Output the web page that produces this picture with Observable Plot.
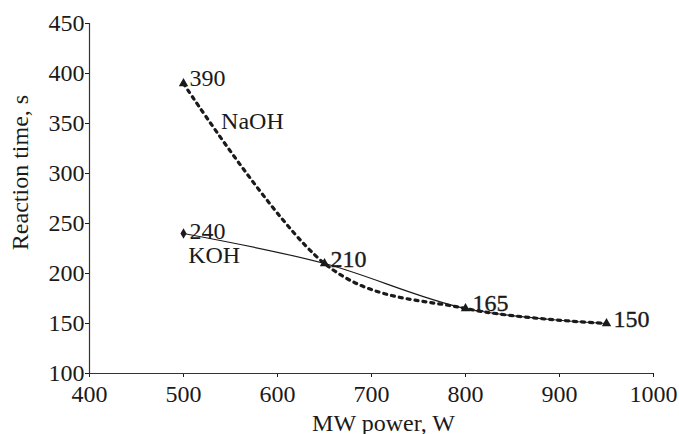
<!DOCTYPE html>
<html>
<head>
<meta charset="utf-8">
<script src="https://cdn.jsdelivr.net/npm/d3@7"></script>
<script src="https://cdn.jsdelivr.net/npm/@observablehq/plot@0.6"></script>
<style>
  html, body { margin: 0; padding: 0; background: #fff; }
  #chart svg { display: block; }
</style>
</head>
<body>
<div id="chart"></div>
<script>
// Data
const power = [500, 650, 800, 950];
const naoh = [390, 210, 165, 150];
const koh = [240, 210, 165, 150];
const xTicks = [400, 500, 600, 700, 800, 900, 1000];
const yTicks = [100, 150, 200, 250, 300, 350, 400, 450];
const seriesNames = ["NaOH", "KOH"];
const seriesLabelX = [540, 505];
const seriesLabelY = [352, 218];

const rows = [];
power.forEach((p, i) => rows.push({series: "NaOH", x: p, y: naoh[i]}));
power.forEach((p, i) => rows.push({series: "KOH", x: p, y: koh[i]}));
const naohRows = rows.filter(d => d.series === "NaOH");
const kohRows = rows.filter(d => d.series === "KOH");
const seriesLabels = seriesNames.map((s, i) => ({name: s, x: seriesLabelX[i], y: seriesLabelY[i]}));

// value labels: first point of each series normal, shared points overprinted (slightly heavier)
const valueLabels = [
  {x: power[0], y: naoh[0], t: String(naoh[0]), dx: 6, dy: -5, bold: false},
  {x: power[0], y: koh[0], t: String(koh[0]), dx: 6, dy: -2, bold: false},
  {x: power[1], y: naoh[1], t: String(naoh[1]), dx: 6, dy: -4, bold: true},
  {x: power[2], y: naoh[2], t: String(naoh[2]), dx: 7, dy: -5, bold: true},
  {x: power[3], y: naoh[3], t: String(naoh[3]), dx: 7, dy: -4, bold: true}
];

const font = "'Liberation Serif', 'Times New Roman', serif";
const ink = "#1a1a1a";

const chart = Plot.plot({
  width: 679,
  height: 434,
  marginLeft: 89,
  marginRight: 26,
  marginTop: 23,
  marginBottom: 61,
  style: {fontFamily: font, fontSize: "24px", color: ink, background: "#fff"},
  x: {domain: [400, 1000]},
  y: {domain: [100, 450]},
  marks: [
    Plot.axisX({ticks: xTicks, tickSize: 4, tickPadding: 7, label: null, tickFormat: d => String(d)}),
    Plot.axisY({ticks: yTicks, tickSize: 4, tickPadding: 1, label: null, tickFormat: d => String(d)}),
    Plot.ruleX([400], {stroke: "#333", strokeWidth: 1.2}),
    Plot.ruleY([100], {stroke: "#333", strokeWidth: 1.2}),
    Plot.line(kohRows, {x: "x", y: "y", curve: "cardinal", stroke: ink, strokeWidth: 1.2}),
    Plot.line(naohRows, {x: "x", y: "y", curve: "cardinal", stroke: ink, strokeWidth: 3.2, strokeDasharray: "3 5"}),
    Plot.dot(kohRows.slice(0, 1), {x: "x", y: "y", symbol: "diamond", r: 3.2, fill: ink, stroke: "none"}),
    Plot.dot(naohRows, {x: "x", y: "y", symbol: "triangle", r: 3.5, fill: ink, stroke: "none"}),
    ...valueLabels.map(d => Plot.text([d], {
      x: "x", y: "y", text: "t", dx: d.dx, dy: d.dy, textAnchor: "start", fill: ink,
      stroke: d.bold ? ink : "none", strokeWidth: 0.35
    })),
    Plot.text(seriesLabels, {x: "x", y: "y", text: "name", textAnchor: "start", fill: ink}),
    Plot.text(["Reaction time, s"], {frameAnchor: "left", textAnchor: "middle", dx: -69, dy: -26, rotate: -90, fill: ink}),
    Plot.text(["MW power, W"], {frameAnchor: "bottom", textAnchor: "middle", dx: 12, dy: 57, fill: ink})
  ]
});
document.getElementById("chart").append(chart);
</script>
</body>
</html>
